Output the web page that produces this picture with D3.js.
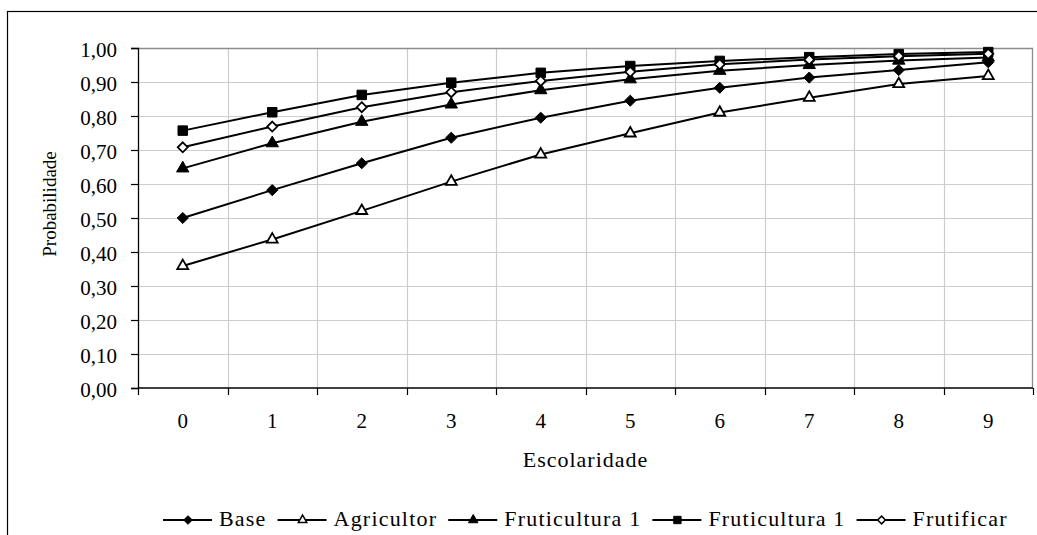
<!DOCTYPE html>
<html>
<head>
<meta charset="utf-8">
<script src="https://cdn.jsdelivr.net/npm/d3@7"></script>
<style>
  html, body { margin: 0; padding: 0; background: #fff; }
  svg { display: block; }
  text { font-family: "Liberation Serif", "Times New Roman", serif; fill: #000; }
</style>
</head>
<body>
<svg id="chart" width="1037" height="535"></svg>
<script>
// ---- data ----
const categories = ["0","1","2","3","4","5","6","7","8","9"];
const base        = [0.500, 0.582, 0.661, 0.736, 0.795, 0.845, 0.883, 0.913, 0.935, 0.958];
const agricultor  = [0.359, 0.437, 0.521, 0.607, 0.687, 0.749, 0.810, 0.854, 0.894, 0.918];
const fruticulturaA = [0.646, 0.720, 0.783, 0.834, 0.876, 0.908, 0.933, 0.950, 0.963, 0.972];
const fruticulturaB = [0.757, 0.811, 0.862, 0.898, 0.927, 0.947, 0.962, 0.973, 0.982, 0.988];
const frutificar  = [0.708, 0.769, 0.826, 0.870, 0.903, 0.930, 0.952, 0.966, 0.976, 0.983];
const seriesNames = ["Base", "Agricultor", "Fruticultura 1", "Fruticultura 1", "Frutificar"];
const yTicks = [0, 0.1, 0.2, 0.3, 0.4, 0.5, 0.6, 0.7, 0.8, 0.9, 1.0];
const xTitle = "Escolaridade";
const yTitle = "Probabilidade";

const diamond = { draw(ctx, size) { const r = Math.sqrt(size / 2); ctx.moveTo(0, -r); ctx.lineTo(r, 0); ctx.lineTo(0, r); ctx.lineTo(-r, 0); ctx.closePath(); } };

const series = [
  { name: seriesNames[0], values: base,          symbol: diamond,           fill: "#000", size: 62 },
  { name: seriesNames[1], values: agricultor,    symbol: d3.symbolTriangle, fill: "#fff", size: 52 },
  { name: seriesNames[2], values: fruticulturaA, symbol: d3.symbolTriangle, fill: "#000", size: 66 },
  { name: seriesNames[3], values: fruticulturaB, symbol: d3.symbolSquare,   fill: "#000", size: 90 },
  { name: seriesNames[4], values: frutificar,    symbol: diamond,           fill: "#fff", size: 50 }
];

// ---- layout ----
const svg = d3.select("#chart");
const plot = { left: 138, right: 1033, top: 48, bottom: 388 };

// outer chart border (extends beyond the frame on right/bottom)
svg.append("rect")
  .attr("x", 7.5).attr("y", 11.5)
  .attr("width", 1100).attr("height", 600)
  .attr("fill", "none").attr("stroke", "#000").attr("stroke-width", 1.2);

const x = d3.scaleBand().domain(categories).range([plot.left, plot.right]).padding(0);
const y = d3.scaleLinear().domain([0, 1]).range([plot.bottom, plot.top]);

// gridlines
const grid = svg.append("g");
grid.selectAll("line.h").data(yTicks.slice(1)).join("line")
  .attr("x1", plot.left).attr("x2", plot.right)
  .attr("y1", d => Math.round(y(d)) + 0.5).attr("y2", d => Math.round(y(d)) + 0.5)
  .attr("stroke", "#cdcdcd").attr("stroke-width", 1.2);
grid.selectAll("line.v").data(categories.slice(1)).join("line")
  .attr("x1", d => Math.round(x(d)) + 0.5).attr("x2", d => Math.round(x(d)) + 0.5)
  .attr("y1", plot.top).attr("y2", plot.bottom)
  .attr("stroke", "#cdcdcd").attr("stroke-width", 1.2);

// plot area border (top/right gray)
svg.append("path")
  .attr("d", `M${plot.left},${plot.top + 0.5}H${plot.right - 0.5}V${plot.bottom}`)
  .attr("fill", "none").attr("stroke", "#8c8c8c").attr("stroke-width", 1.3);

// y axis
const yAxis = d3.axisLeft(y)
  .tickValues(yTicks)
  .tickSize(7)
  .tickPadding(14)
  .tickFormat(d => d3.format(".2f")(d).replace(".", ","));
const gy = svg.append("g").attr("transform", `translate(${plot.left},0)`).call(yAxis);
gy.select(".domain").attr("stroke", "#000").attr("stroke-width", 1.3);
gy.selectAll(".tick line").attr("stroke", "#000").attr("stroke-width", 1.2);
gy.selectAll(".tick text")
  .attr("font-size", 21).attr("dy", "0.42em")
  .style("font-family", "Liberation Serif");

// x axis
const xAxis = d3.axisBottom(x).tickSize(0).tickPadding(0);
const gx = svg.append("g").attr("transform", `translate(0,${plot.bottom})`).call(xAxis);
gx.select(".domain").remove();
gx.selectAll(".tick text")
  .attr("font-size", 21).attr("y", 40).attr("dy", 0)
  .style("font-family", "Liberation Serif");
svg.append("line")
  .attr("x1", plot.left).attr("x2", plot.right)
  .attr("y1", plot.bottom).attr("y2", plot.bottom)
  .attr("stroke", "#000").attr("stroke-width", 1.3);
const boundaries = categories.map(c => x(c)).concat([x(categories[categories.length - 1]) + x.bandwidth()]);
svg.append("g").selectAll("line").data(boundaries).join("line")
  .attr("x1", d => Math.round(d) + 0.5).attr("x2", d => Math.round(d) + 0.5)
  .attr("y1", plot.bottom).attr("y2", plot.bottom + 7)
  .attr("stroke", "#000").attr("stroke-width", 1.2);

// axis titles
svg.append("text")
  .attr("x", (plot.left + plot.right) / 2).attr("y", 467)
  .attr("text-anchor", "middle").attr("font-size", 22)
  .attr("letter-spacing", 1.0)
  .text(xTitle);
svg.append("text")
  .attr("transform", "translate(55.5,204) rotate(-90)")
  .attr("text-anchor", "middle").attr("font-size", 19)
  .text(yTitle);

// series lines and markers
const line = d3.line()
  .x((d, i) => x(categories[i]) + x.bandwidth() / 2)
  .y(d => y(d));

const gs = svg.append("g");
series.forEach(s => {
  gs.append("path")
    .attr("d", line(s.values))
    .attr("fill", "none").attr("stroke", "#000").attr("stroke-width", 2);
});
series.forEach(s => {
  gs.append("g").selectAll("path").data(s.values).join("path")
    .attr("transform", (d, i) => `translate(${x(categories[i]) + x.bandwidth() / 2},${y(d)})`)
    .attr("d", d3.symbol().type(s.symbol).size(s.size))
    .attr("fill", s.fill).attr("stroke", "#000").attr("stroke-width", s.fill === "#fff" ? 1.8 : 1);
});

// legend
const legend = svg.append("g");
let lx = 163;
const ly = 520;
series.forEach((s, i) => {
  const item = legend.append("g");
  item.append("line")
    .attr("x1", lx).attr("x2", lx + 49).attr("y1", ly).attr("y2", ly)
    .attr("stroke", "#000").attr("stroke-width", 2);
  item.append("path")
    .attr("transform", `translate(${lx + 25},${ly})`)
    .attr("d", d3.symbol().type(s.symbol).size(s.size * 0.6))
    .attr("fill", s.fill).attr("stroke", "#000").attr("stroke-width", s.fill === "#fff" ? 1.5 : 1);
  const t = item.append("text")
    .attr("x", lx + 56).attr("y", ly + 6)
    .attr("font-size", 22).attr("letter-spacing", 1.2)
    .text(s.name);
  lx = lx + 56 + t.node().getComputedTextLength() + 11;
});
</script>
</body>
</html>
